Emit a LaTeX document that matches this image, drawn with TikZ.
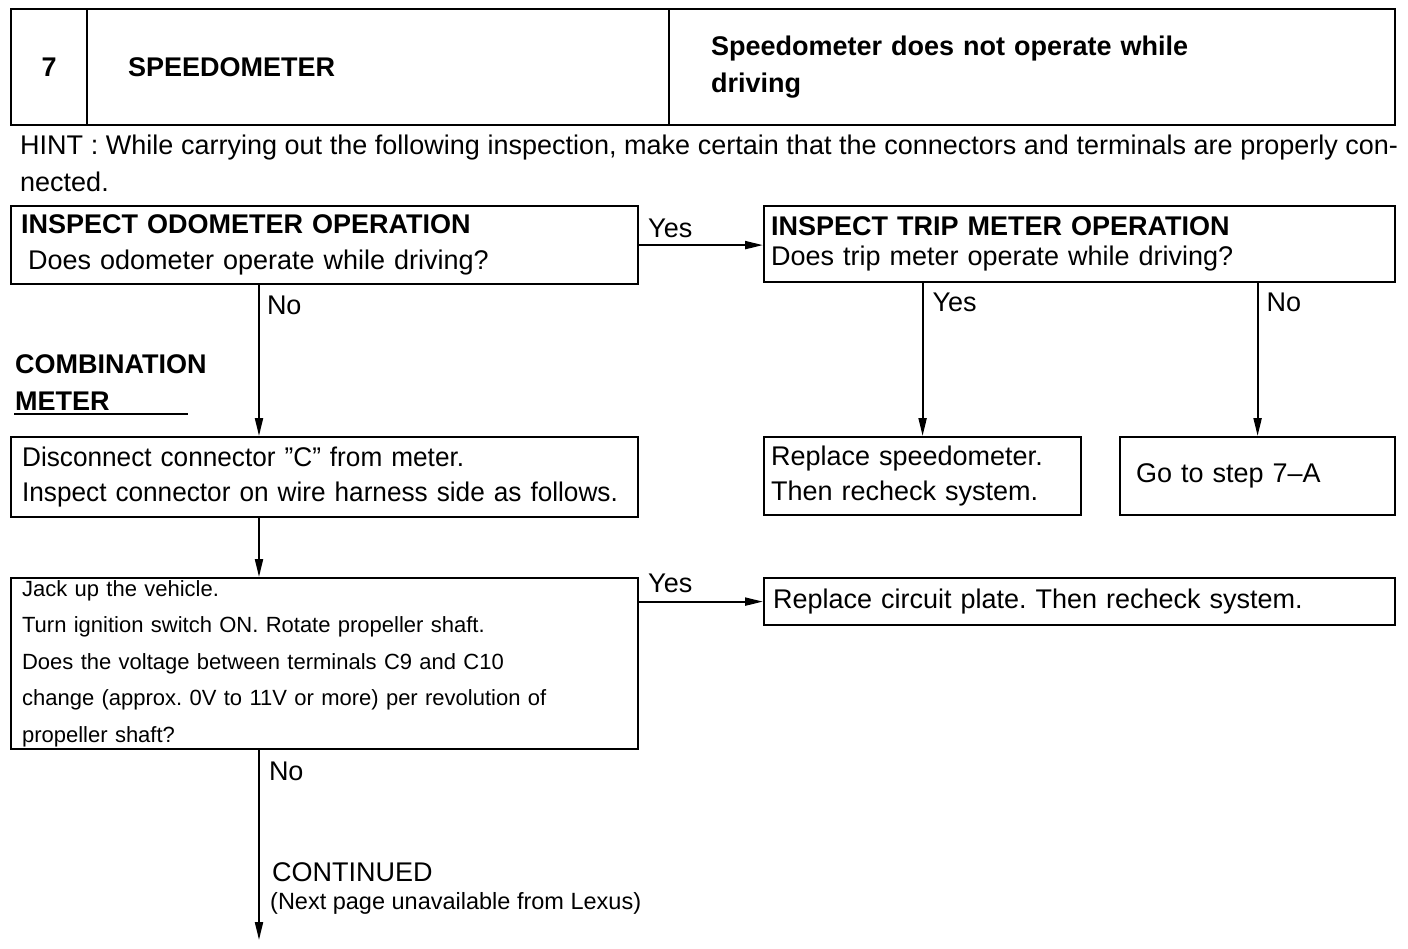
\documentclass[tikz,border=0pt]{standalone}
\usepackage{fontspec}
\setmainfont{Liberation Sans}
\newfontfamily\engfont[FakeStretch=0.97]{Liberation Sans}
\frenchspacing
\usetikzlibrary{arrows.meta}
\tikzset{
  kasten/.style={draw, line width=2.2pt, anchor=north west, align=left, inner ysep=0pt},
  pfeil/.style={line width=2pt, -{Triangle[length=18pt,width=8pt]}},
  lbl/.style={inner sep=0pt},
}

\begin{document}
\begin{tikzpicture}[x=1pt, y=-1pt, font=\fontsize{27}{36}\selectfont]
				\useasboundingbox (0,0) rectangle (1408,948);
				% Kopfzeile
				\node[kasten, minimum height=116, text width=76, inner xsep=0pt, align=center] (nr) at (10,8) {\textbf{7}};
				\node[kasten, minimum height=116, text width=500, inner xsep=41pt] (titel) at (86,8) {\textbf{SPEEDOMETER}};
				\node[kasten, minimum height=116, text width=642, inner xsep=42pt, font=\bfseries\fontsize{27}{37}\selectfont] (symptom) at (668,8) {Speedometer does not operate while\\driving};
				% Hinweis
				\node[lbl, anchor=north west, text width=1378, align=justify, font=\fontsize{27}{37}\selectfont] (hint) at (20,135) {HINT : While carrying out the following inspection, make certain that the connectors and terminals are properly con-\linebreak nected.};
				% Kaesten
				\node[kasten, minimum height=78, text width=607, inner xsep=10pt] (odo) at (10,205) {\textbf{INSPECT ODOMETER OPERATION}\\\hspace*{7pt}Does odometer operate while driving?};
				\node[kasten, minimum height=76, text width=617, inner xsep=7pt, font=\fontsize{27}{30}\selectfont] (trip) at (763,205) {\textbf{INSPECT TRIP METER OPERATION}\\Does trip meter operate while driving?};
				\node[kasten, minimum height=78, text width=303, inner xsep=7pt, font=\fontsize{27}{35}\selectfont] (tacho) at (763,436) {Replace speedometer.\\Then recheck system.};
				\node[kasten, minimum height=78, text width=243, inner xsep=16pt] (schritt) at (1119,436) {Go to step 7–A};
				\node[kasten, minimum height=80, text width=605, inner xsep=11pt, font=\engfont\fontsize{27}{35}\selectfont] (stecker) at (10,436) {Disconnect connector ”C” from meter.\\Inspect connector on wire harness side as follows.};
				\node[kasten, minimum height=171, text width=605, inner xsep=11pt, font=\fontsize{22}{36.5}\selectfont] (spannung) at (10,577) {Jack up the vehicle.\\Turn ignition switch ON. Rotate propeller shaft.\\Does the voltage between terminals C9 and C10\\change (approx. 0V to 11V or more) per revolution of\\propeller shaft?};
				\node[kasten, minimum height=47, text width=613, inner xsep=9pt] (platte) at (763,577) {Replace circuit plate. Then recheck system.};
				% Beschriftung links
				\node[lbl, anchor=north west, align=left, font=\bfseries\fontsize{27}{37}\selectfont] (kombi) at (15,354) {COMBINATION\\METER};
				\draw[line width=2pt] (14,414) -- (188,414);
				% Pfeile
				\draw[pfeil] (odo.east) -- (odo.east -| trip.west) node[lbl, pos=0, anchor=south west, xshift=8pt, yshift=6pt] {Yes};
				\draw[pfeil] ([xshift=249pt]odo.south west) -- ([xshift=249pt]stecker.north west) node[lbl, pos=0, anchor=north west, xshift=7pt, yshift=-10pt] {No};
				\draw[pfeil] (trip.south -| tacho.north) -- (tacho.north) node[lbl, pos=0, anchor=north west, xshift=9pt, yshift=-9pt] {Yes};
				\draw[pfeil] (trip.south -| schritt.north) -- (schritt.north) node[lbl, pos=0, anchor=north west, xshift=8pt, yshift=-9pt] {No};
				\draw[pfeil] ([xshift=249pt]stecker.south west) -- ([xshift=249pt]spannung.north west);
				\draw[pfeil] (platte.west -| spannung.east) -- (platte.west) node[lbl, pos=0, anchor=south west, xshift=8pt, yshift=8pt] {Yes};
				\coordinate (weiter) at (259,940);
				\draw[pfeil] ([xshift=249pt]spannung.south west) -- (weiter) node[lbl, pos=0, anchor=north west, xshift=9pt, yshift=-11pt] {No};
				% Fortsetzung
				\node[lbl, anchor=west] (cont) at (272,872) {CONTINUED};
				\node[lbl, anchor=west, font=\fontsize{23.5}{28}\selectfont] (quelle) at (270,903) {(Next page unavailable from Lexus)};
		\end{tikzpicture}
\end{document}
